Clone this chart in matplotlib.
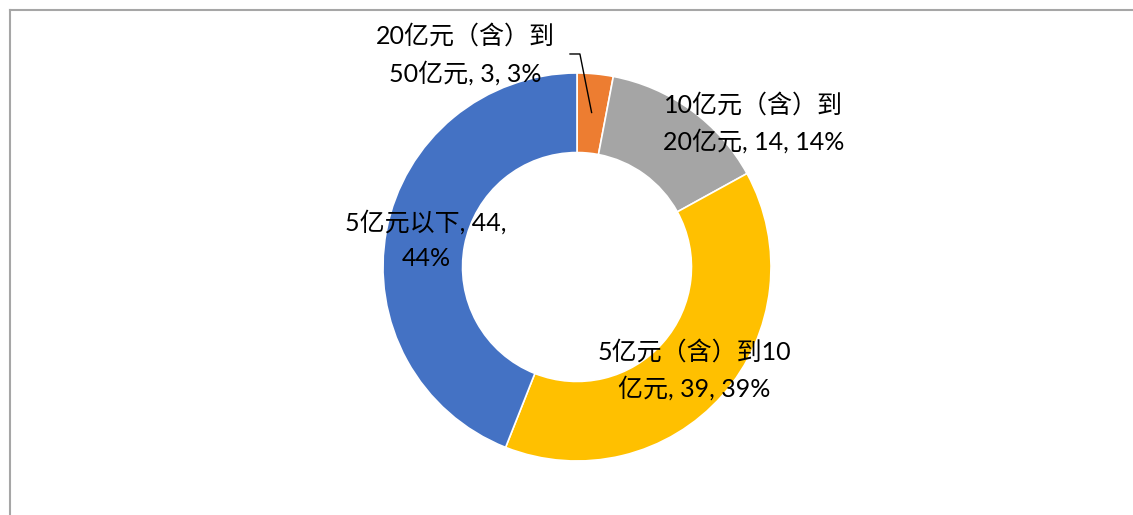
import numpy as np
import matplotlib
matplotlib.use("Agg")
import matplotlib.pyplot as plt
from matplotlib.lines import Line2D

plt.rcParams['font.family'] = ['Lato', 'Noto Sans CJK SC', 'DejaVu Sans']

categories = ["20亿元（含）到50亿元", "10亿元（含）到20亿元", "5亿元（含）到10亿元", "5亿元以下"]
values = [3, 14, 39, 44]
label_texts = ["20亿元（含）到\n50亿元, 3, 3%",
               "10亿元（含）到\n20亿元, 14, 14%",
               "5亿元（含）到10\n亿元, 39, 39%",
               "5亿元以下, 44,\n44%"]
colors = ["#ED7D31", "#A5A5A5", "#FFC000", "#4472C4"]

W, H, dpi = 1133, 515, 100
fig = plt.figure(figsize=(W / dpi, H / dpi), dpi=dpi)
ax = fig.add_axes([0, 0, 1, 1])

wedges, _ = ax.pie(values, colors=colors, startangle=90, counterclock=False,
                   radius=1.0, wedgeprops=dict(width=0.41, edgecolor='white', linewidth=1.2))

cx, cy, R = 577, 267, 194  # pixel layout of the pie
ax.set_xlim(-cx / R, (W - cx) / R)
ax.set_ylim(-(H - cy) / R, cy / R)
ax.set_aspect('equal')
ax.axis('off')

# label positions (relative to pie, in radius units)
label_pos = [(-0.577, 1.093), (0.912, 0.742), (0.603, -0.531), (-0.778, 0.139)]
for (x, y), t in zip(label_pos, label_texts):
    ax.text(x, y, t, ha='center', va='center', fontsize=18, linespacing=1.62, color='black')

# leader line for the small orange slice
w0 = wedges[0]
mid = np.deg2rad((w0.theta1 + w0.theta2) / 2)
ex, ey = 0.8 * np.cos(mid), 0.8 * np.sin(mid)
ax.plot([-0.036, 0.015, ex], [1.098, 1.098, ey], color='black', lw=1.0)

# chart-area border (left and top visible)
bx, by = 10 / W, 1 - 10 / H
fig.add_artist(Line2D([bx, bx], [0, by], transform=fig.transFigure, color='#A6A6A6', lw=1.5))
fig.add_artist(Line2D([bx, 1], [by, by], transform=fig.transFigure, color='#A6A6A6', lw=1.5))

fig.savefig("out.png", dpi=dpi)
